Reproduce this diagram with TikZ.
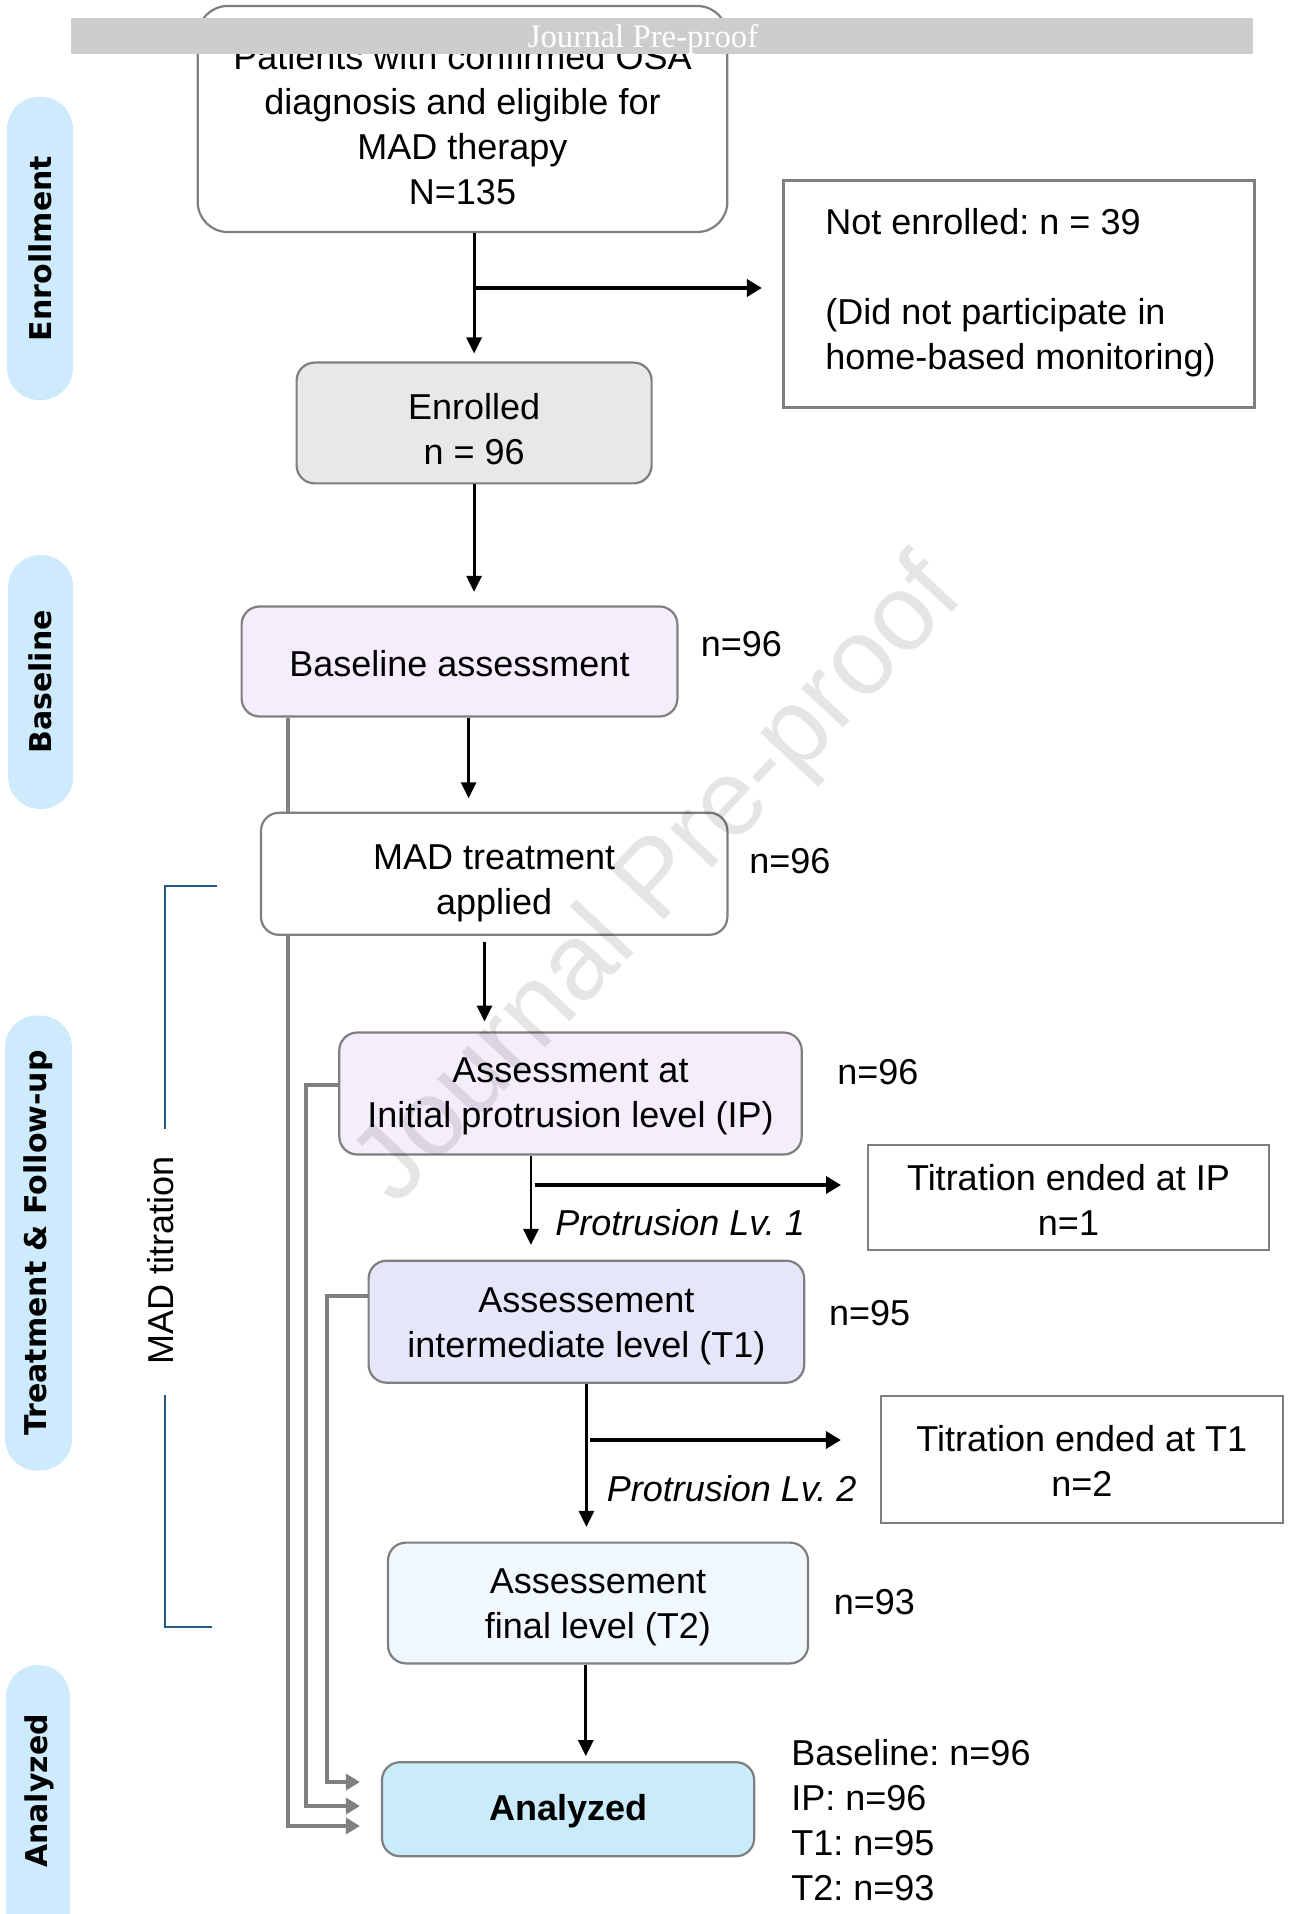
\documentclass[tikz,border=0pt]{standalone}
\usepackage{fontspec}
\setmainfont{Liberation Sans}
\newfontfamily\sidefont{DejaVu Sans}
\newfontfamily\bannerfont{Liberation Serif}
\usetikzlibrary{arrows.meta,calc}
\pgfdeclarelayer{background}
\pgfsetlayers{background,main}
\definecolor{bordergray}{HTML}{7F7F7F}
\definecolor{enrgray}{HTML}{E8E8E8}
\definecolor{lav}{HTML}{F4EDFC}
\definecolor{lavblue}{HTML}{E6E6FB}
\definecolor{paleblue}{HTML}{F0F8FD}
\definecolor{anablue}{HTML}{C9EBFA}
\definecolor{pillblue}{HTML}{CDEBFC}
\definecolor{brkblue}{HTML}{1F5D86}
\definecolor{bannergray}{HTML}{CDCDCF}
\definecolor{arrgray}{HTML}{808080}
\newcommand\dnstrut[1]{\rule{0pt}{#1}}
\frenchspacing
\tikzset{
  box/.style={draw=bordergray, line width=1.1pt, rounded corners=9pt, align=center, inner sep=0pt, font=\fontsize{18}{22.5}\selectfont\frenchspacing},
  sqbox/.style={draw=bordergray, line width=1.1pt, inner sep=0pt, align=center, font=\fontsize{18}{22.5}\selectfont\frenchspacing},
  lbl/.style={inner sep=0pt, anchor=west, align=left, font=\fontsize{18}{22.5}\selectfont\frenchspacing},
  pill/.style={fill=pillblue, rounded corners=16pt, inner sep=0pt, font=\sidefont\bfseries\fontsize{15}{18}\selectfont},
  arr/.style={line width=1.4pt, -{Triangle[length=8pt,width=7.5pt]}},
  arrb/.style={line width=1.85pt, -{Triangle[length=7.5pt,width=8.5pt]}},
  garr/.style={draw=arrgray, line width=1.9pt, -{Triangle[length=7pt,width=8pt]}, shorten >=10.5pt},
  brk/.style={draw=brkblue, line width=1.3pt},
}
\begin{document}
\begin{tikzpicture}[x=0.5pt,y=-0.5pt]
\useasboundingbox (0,0) rectangle (1290,1914);
\clip (0,0) rectangle (1290,1914);

% side pills
\node[pill, rotate=90, minimum width=151.5pt, minimum height=33pt] (penr) at (40,248.5) {Enrollment};
\node[pill, rotate=90, minimum width=127pt, minimum height=32.5pt] (pbase) at (40.7,682) {Baseline};
\node[pill, rotate=90, minimum width=227.5pt, minimum height=33.5pt] (ptreat) at (38.5,1243) {Treatment \& Follow-up};
\node[pill, rotate=90, minimum width=140pt, minimum height=32pt] (pana) at (38,1805) {};
\node[inner sep=0pt, rotate=90, font=\sidefont\bfseries\fontsize{15}{18}\selectfont] (pana-t) at (39,1791) {Analyzed};

% main boxes
\node[box, rounded corners=15pt, fill=white, minimum width=264.8pt, minimum height=113pt] (pat) at (462.5,119) {\dnstrut{18.6pt}Patients with confirmed OSA\\diagnosis and eligible for\\MAD therapy\\N=135};
\node[sqbox, minimum width=235.5pt, minimum height=113.5pt] (ne) at (1019,294) {};
\node[lbl] (ne-t) at (825,293) {Not enrolled: n = 39\\[22.5pt](Did not participate in\\home-based monitoring)};
\node[box, fill=enrgray, minimum width=177.5pt, minimum height=60.4pt] (enr) at (474.1,423) {\dnstrut{19.2pt}Enrolled\\n = 96};
\node[box, fill=lav, minimum width=217.9pt, minimum height=55pt] (base) at (459.5,661.5) {\dnstrut{15.5pt}Baseline assessment};
\node[lbl] (nbase) at (700.5,644) {n=96};
\node[box, fill=white, minimum width=233.2pt, minimum height=61pt] (mad) at (494.2,873.8) {\dnstrut{21.6pt}MAD treatment\\applied};
\node[lbl] (nmad) at (749,861) {n=96};
\node[box, fill=lav, minimum width=231.2pt, minimum height=61pt] (ip) at (570.5,1093.5) {\dnstrut{14.9pt}Assessment at\\Initial protrusion level (IP)};
\node[lbl] (nip) at (837,1072.5) {n=96};
\node[sqbox, minimum width=200.7pt, minimum height=52.5pt] (tip) at (1068.5,1197.2) {\dnstrut{15.5pt}Titration ended at IP\\n=1};
\node[box, fill=lavblue, minimum width=217.8pt, minimum height=61pt] (t1) at (586.4,1321.7) {\dnstrut{16.8pt}Assessement\\intermediate level (T1)};
\node[lbl] (nt1) at (828.6,1313) {n=95};
\node[sqbox, minimum width=200.8pt, minimum height=63.5pt] (tt1) at (1081.8,1459.5) {\dnstrut{14.4pt}Titration ended at T1\\n=2};
\node[box, fill=paleblue, minimum width=210pt, minimum height=60.4pt] (t2) at (598,1603) {\dnstrut{16.8pt}Assessement\\final level (T2)};
\node[lbl] (nt2) at (833.5,1602) {n=93};
\node[box, fill=anablue, minimum width=186.1pt, minimum height=47pt, font=\fontsize{18}{22.5}\selectfont\bfseries] (ana) at (568.1,1809.2) {\dnstrut{15.5pt}Analyzed};
\node[lbl] (counts) at (791,1820.5) {Baseline: n=96\\IP: n=96\\T1: n=95\\T2: n=93};

% labels on arrows
\node[lbl, font=\fontsize{18}{22.5}\selectfont\itshape\frenchspacing] (lv1) at (555,1222.6) {Protrusion Lv. 1};
\node[lbl, font=\fontsize{18}{22.5}\selectfont\itshape\frenchspacing] (lv2) at (606.5,1488.7) {Protrusion Lv. 2};

% black arrows
\draw[arr, shorten >=4pt] (pat.south -| enr.north) -- (enr.north);
\coordinate (b1) at (476,288);
\draw[arrb, shorten >=10.25pt] (b1) -- (b1 -| ne.west);
\draw[arr, shorten >=6.75pt] (enr.south) -- (enr.south |- base.north);
\draw[arr, shorten >=6.7pt] ([xshift=4.55pt]base.south) -- ([xshift=4.55pt]base.south |- mad.north);
\draw[arr, shorten <=3pt, shorten >=4.9pt] ([xshift=-4.85pt]mad.south) -- ([xshift=-4.85pt]mad.south |- ip.north);
\draw[arr, shorten >=7.35pt] ([xshift=-19.8pt]ip.south) -- ([xshift=-19.8pt]ip.south |- t1.north);
\coordinate (b2) at (534.5,1185);
\draw[arrb, shorten >=12.85pt] (b2) -- (b2 -| tip.west);
\draw[arr, shorten >=7.3pt] (t1.south) -- (t1.south |- t2.north);
\coordinate (b3) at (589.5,1440);
\draw[arrb, shorten >=19.5pt] (b3) -- (b3 -| tt1.west);
\draw[arr, shorten >=2.45pt] ([xshift=-6.1pt]t2.south) -- ([xshift=-6.1pt]t2.south |- ana.north);

% gray feedback arrows
\coordinate (gA1) at (288,716.4);
\coordinate (gA2) at (288,1826);
\coordinate (gB1) at (306,1085);
\coordinate (gB2) at (306,1806);
\coordinate (gC1) at (327,1296);
\coordinate (gC2) at (327,1782);
\begin{pgfonlayer}{background}
\draw[garr] (base.south -| gA1) -- (gA2) -- (ana.west |- gA2);
\draw[garr] (ip.west |- gB1) -- (gB1) -- (gB2) -- (ana.west |- gB2);
\draw[garr] (t1.west |- gC1) -- (gC1) -- (gC2) -- (ana.west |- gC2);
\end{pgfonlayer}

% MAD titration bracket
\node[inner sep=0pt, rotate=90, font=\fontsize{18}{22.5}\selectfont] (madt) at (161,1260) {MAD titration};
\draw[brk] (217.2,886) -- (164.8,886) -- (164.8,1129);
\draw[brk] (164.8,1395) -- (164.8,1627) -- (212.4,1627);

% journal banner
\node[fill=bannergray, minimum width=591pt, minimum height=18pt, inner sep=0pt] (ban) at (662,36) {};
\node[inner sep=0pt, text=white, font=\bannerfont\fontsize{16.4}{18}\selectfont] (bant) at (643,39.5) {Journal Pre-proof};

% watermark
\node[rotate=47, text=black, opacity=0.1, inner sep=0pt, font=\fontsize{54}{60}\selectfont] (wm) at (661,883) {Journal Pre-proof};
\end{tikzpicture}
\end{document}
